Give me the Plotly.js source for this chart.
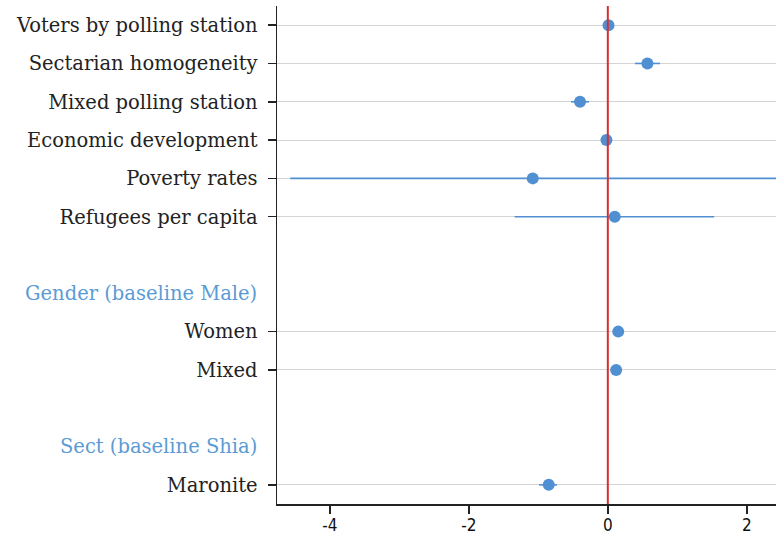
<!DOCTYPE html>
<html>
<head>
<meta charset="utf-8">
<script src="https://cdn.plot.ly/plotly-3.0.1.min.js"></script>
<style>
  html, body { margin: 0; padding: 0; background: #fff; }
  #plot { width: 776px; height: 535px; }
</style>
</head>
<body>
<div id="plot"></div>
<script>
// row order from top to bottom, '' = spacer row
const rowOrder = [
  'Voters by polling station',
  'Sectarian homogeneity',
  'Mixed polling station',
  'Economic development',
  'Poverty rates',
  'Refugees per capita',
  '',
  'Gender (baseline Male)',
  'Women',
  'Mixed',
  ' ',
  'Sect (baseline Shia)',
  'Maronite'
];
const headers = ['Gender (baseline Male)', 'Sect (baseline Shia)'];

// coefficients and confidence bounds
const variables = ['Voters by polling station', 'Sectarian homogeneity', 'Mixed polling station',
  'Economic development', 'Poverty rates', 'Refugees per capita', 'Women', 'Mixed', 'Maronite'];
const estimates = [0.01, 0.57, -0.40, -0.02, -1.08, 0.10, 0.15, 0.12, -0.85];
const lower     = [-0.01, 0.39, -0.53, -0.05, -4.57, -1.34, 0.13, 0.05, -0.99];
const upper     = [0.03, 0.75, -0.27, 0.01, 2.45, 1.53, 0.17, 0.19, -0.73];

const xTicks = [-4, -2, 0, 2];

var yPos = variables.map(v => rowOrder.indexOf(v));

var blue = '#4f8fd2';
var labelFont = 'DejaVu Serif, serif';

var trace = {
  x: estimates,
  y: yPos,
  type: 'scatter',
  mode: 'markers',
  marker: {color: blue, size: 12},
  error_x: {
    type: 'data',
    symmetric: false,
    array: upper.map((u, i) => u - estimates[i]),
    arrayminus: lower.map((l, i) => estimates[i] - l),
    color: blue,
    thickness: 1.6,
    width: 0
  },
  hoverinfo: 'skip'
};

var annotations = headers.map(h => ({
  xref: 'paper', yref: 'y',
  x: -0.036, y: rowOrder.indexOf(h),
  xanchor: 'right', yanchor: 'middle',
  text: h, showarrow: false,
  font: {family: labelFont, size: 19.5, color: '#5b9bd5'}
}));

var layout = {
  width: 776, height: 535,
  margin: {l: 277, r: 0, t: 6, b: 31},
  paper_bgcolor: '#fff',
  plot_bgcolor: '#fff',
  showlegend: false,
  xaxis: {
    range: [-4.76, 2.42],
    autorange: false,
    tickvals: xTicks,
    ticktext: xTicks.map(String),
    ticks: 'outside', ticklen: 8, tickwidth: 1.5, tickcolor: '#222',
    ticklabelstandoff: -3,
    showline: true, linecolor: '#222', linewidth: 1.5,
    showgrid: false, zeroline: false,
    tickfont: {family: 'DejaVu Sans Condensed, DejaVu Sans, sans-serif', size: 17, color: '#111'}
  },
  yaxis: {
    range: [12.5, -0.5],
    autorange: false,
    tickvals: yPos,
    ticktext: variables,
    ticks: 'outside', ticklen: 8, tickwidth: 1.5, tickcolor: '#222',
    ticklabelstandoff: 6,
    showline: true, linecolor: '#222', linewidth: 1.5,
    showgrid: true, gridcolor: '#d4d4d4', gridwidth: 1,
    zeroline: false,
    tickfont: {family: labelFont, size: 19.5, color: '#222'}
  },
  shapes: [{
    type: 'line', xref: 'x', yref: 'paper',
    x0: 0, x1: 0, y0: 0, y1: 1,
    line: {color: '#d62f2f', width: 2}
  }],
  annotations: annotations
};

Plotly.newPlot('plot', [trace], layout, {displayModeBar: false, staticPlot: true});
</script>
</body>
</html>
